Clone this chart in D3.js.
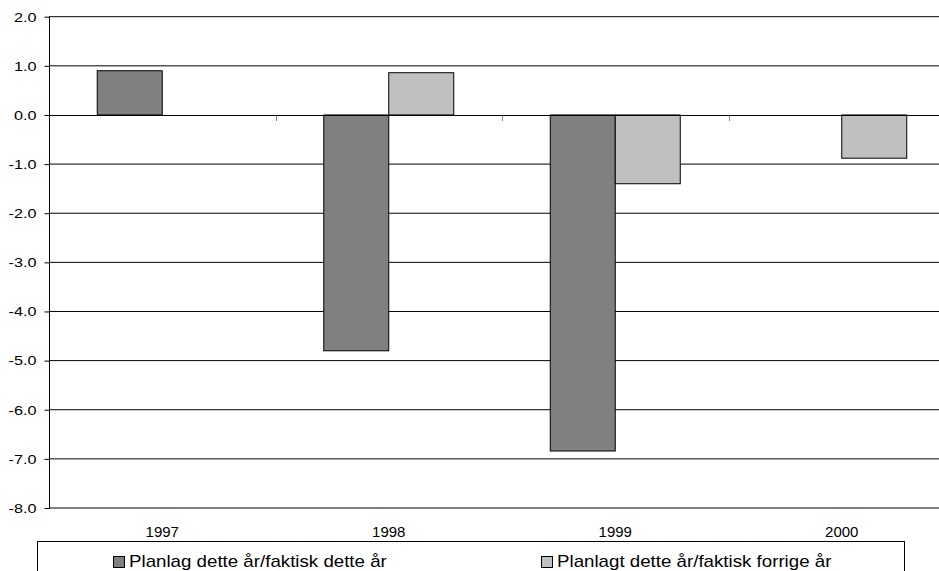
<!DOCTYPE html>
<html>
<head>
<meta charset="utf-8">
<script src="https://cdn.jsdelivr.net/npm/d3@7"></script>
<style>
  html, body { margin: 0; padding: 0; background: #fff; }
  svg { display: block; font-family: "Liberation Sans", Arial, sans-serif; }
</style>
</head>
<body>
<svg id="chart" width="939" height="571"></svg>
<script>
// Budget balance: planned vs. actual, per year
const years = ["1997", "1998", "1999", "2000"];
const seriesNames = ["Planlag dette år/faktisk dette år", "Planlagt dette år/faktisk forrige år"];
const planVsActualThisYear = [0.9, -4.8, -6.84, null];
const planVsActualLastYear = [null, 0.86, -1.4, -0.88];
const yTicks = [2, 1, 0, -1, -2, -3, -4, -5, -6, -7, -8];
const seriesColors = ["#808080", "#c0c0c0"];

const svg = d3.select("#chart");

const plot = { left: 49, right: 955, top: 16.7, bottom: 508 };

const x = d3.scaleBand().domain(years).range([plot.left, plot.right]).paddingInner(0).paddingOuter(0);
const xInner = d3.scaleBand().domain([0, 1]).range([0, 130]);
const groupOffset = (x.bandwidth() - 130) / 2;
const y = d3.scaleLinear().domain([-8, 2]).range([plot.bottom, plot.top]);

// horizontal gridlines
svg.append("g")
  .selectAll("line")
  .data(yTicks.filter(d => d !== 0))
  .join("line")
  .attr("x1", plot.left).attr("x2", plot.right)
  .attr("y1", d => y(d)).attr("y2", d => y(d))
  .attr("stroke", "#000").attr("stroke-width", 1);

// bars
const series = [planVsActualThisYear, planVsActualLastYear];
series.forEach((vals, si) => {
  svg.append("g")
    .selectAll("rect")
    .data(years.map((yr, i) => ({ yr, v: vals[i] })).filter(d => d.v !== null))
    .join("rect")
    .attr("x", d => x(d.yr) + groupOffset + xInner(si))
    .attr("width", xInner.bandwidth())
    .attr("y", d => y(Math.max(0, d.v)))
    .attr("height", d => Math.abs(y(d.v) - y(0)))
    .attr("fill", seriesColors[si])
    .attr("stroke", "#000")
    .attr("stroke-width", 1);
});

// zero line with category tick marks
svg.append("line")
  .attr("x1", plot.left).attr("x2", plot.right)
  .attr("y1", Math.round(y(0)) + 0.5).attr("y2", Math.round(y(0)) + 0.5)
  .attr("stroke", "#000").attr("stroke-width", 1);

svg.append("g")
  .selectAll("line")
  .data(years.slice(1))
  .join("line")
  .attr("x1", d => Math.round(x(d)) + 0.5).attr("x2", d => Math.round(x(d)) + 0.5)
  .attr("y1", Math.round(y(0)) + 0.5).attr("y2", Math.round(y(0)) + 6)
  .attr("stroke", "#808080").attr("stroke-width", 1);

// y axis
const yAxis = d3.axisLeft(y).tickValues(yTicks).tickSize(5).tickPadding(8)
  .tickFormat(d => d.toFixed(1));
const yg = svg.append("g").attr("transform", `translate(${plot.left + 0.5},0)`).call(yAxis);
yg.select(".domain").attr("stroke", "#000").attr("d", `M0,${y(2)}V${y(-8)}`);
yg.selectAll(".tick line").attr("stroke", "#000");
yg.selectAll(".tick text")
  .attr("font-size", 13.5)
  .attr("fill", "#000")
  .attr("font-family", "Liberation Sans, Arial, sans-serif")
  .each(function () {
    const t = d3.select(this);
    const w = this.getComputedTextLength();
    t.attr("textLength", w * 1.2).attr("lengthAdjust", "spacingAndGlyphs");
  });

// category labels along the bottom
svg.append("g")
  .selectAll("text")
  .data(years)
  .join("text")
  .attr("x", d => x(d) + x.bandwidth() / 2)
  .attr("y", 537)
  .attr("text-anchor", "middle")
  .attr("font-size", 15)
  .text(d => d);

// legend
const legend = svg.append("g");
legend.append("rect")
  .attr("x", 37.5).attr("y", 541.5)
  .attr("width", 867).attr("height", 60)
  .attr("fill", "#fff").attr("stroke", "#000").attr("stroke-width", 1);

const legendX = [113.5, 541.5];
seriesNames.forEach((name, i) => {
  legend.append("rect")
    .attr("x", legendX[i]).attr("y", 556.5)
    .attr("width", 11).attr("height", 11)
    .attr("fill", seriesColors[i]).attr("stroke", "#000").attr("stroke-width", 1);
  const t = legend.append("text")
    .attr("x", legendX[i] + 15.5).attr("y", 567)
    .attr("font-size", 17)
    .text(name);
  const w = t.node().getComputedTextLength();
  t.attr("textLength", w * 1.1).attr("lengthAdjust", "spacingAndGlyphs");
});
</script>
</body>
</html>
